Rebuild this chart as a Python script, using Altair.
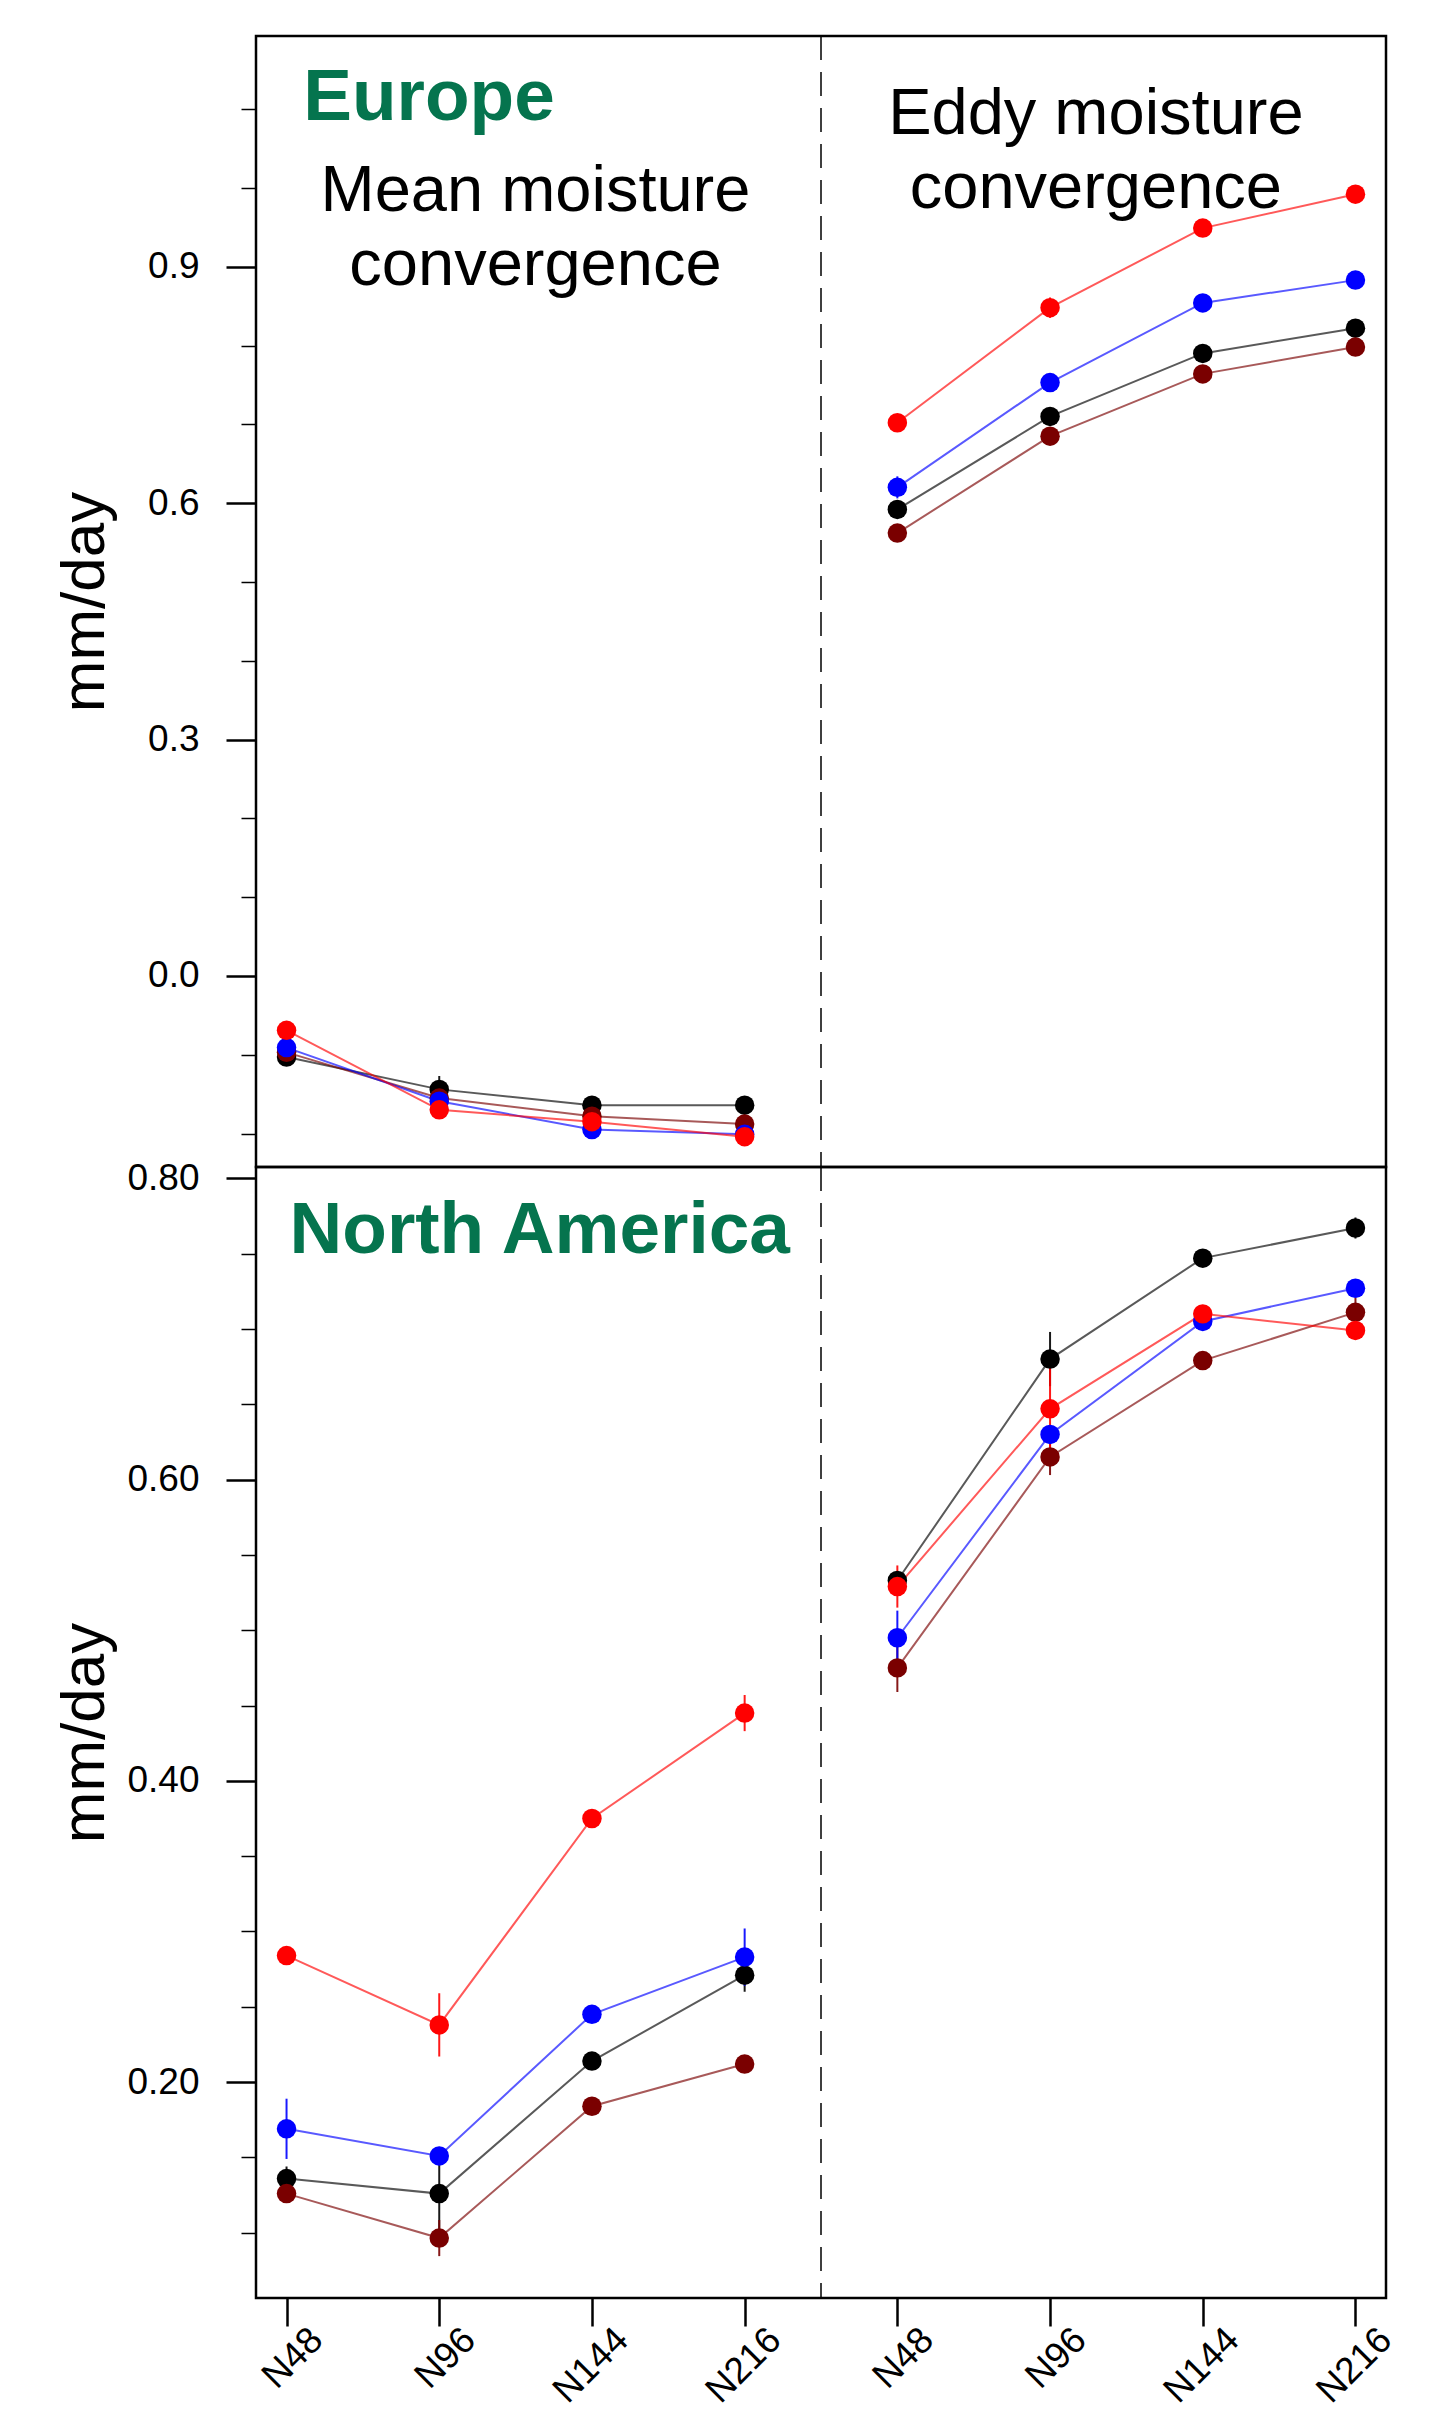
import altair as alt
import pandas as pd

resolutions = ["N48", "N96", "N144", "N216"]
components = ["Mean", "Eddy"]
series_names = ["black", "darkred", "blue", "red"]
series_colors = ["#000000", "#7A0000", "#0000FF", "#FF0000"]

# Europe - mean moisture convergence
eu_mean_black = [-0.103, -0.144, -0.164, -0.164]
eu_mean_darkred = [-0.097, -0.155, -0.178, -0.188]
eu_mean_blue = [-0.091, -0.159, -0.195, -0.201]
eu_mean_red = [-0.069, -0.170, -0.185, -0.204]
# Europe - eddy moisture convergence
eu_eddy_black = [0.592, 0.710, 0.790, 0.822]
eu_eddy_darkred = [0.562, 0.685, 0.764, 0.798]
eu_eddy_blue = [0.620, 0.753, 0.854, 0.883]
eu_eddy_red = [0.702, 0.848, 0.949, 0.992]
# Europe error half-widths
eu_mean_black_err = [0.004, 0.017, 0.004, 0.004]
eu_mean_darkred_err = [0.004, 0.004, 0.004, 0.004]
eu_mean_blue_err = [0.004, 0.004, 0.004, 0.004]
eu_mean_red_err = [0.004, 0.004, 0.004, 0.004]
eu_eddy_black_err = [0.004, 0.004, 0.004, 0.004]
eu_eddy_darkred_err = [0.004, 0.004, 0.004, 0.004]
eu_eddy_blue_err = [0.014, 0.004, 0.004, 0.004]
eu_eddy_red_err = [0.004, 0.013, 0.005, 0.004]

# North America - mean moisture convergence
na_mean_black = [0.136, 0.126, 0.214, 0.271]
na_mean_darkred = [0.126, 0.0965, 0.184, 0.212]
na_mean_blue = [0.169, 0.151, 0.245, 0.283]
na_mean_red = [0.284, 0.238, 0.375, 0.445]
# North America - eddy moisture convergence
na_eddy_black = [0.533, 0.680, 0.747, 0.767]
na_eddy_darkred = [0.475, 0.615, 0.679, 0.711]
na_eddy_blue = [0.495, 0.630, 0.705, 0.727]
na_eddy_red = [0.529, 0.647, 0.710, 0.699]
# North America error half-widths
na_mean_black_err = [0.008, 0.024, 0.004, 0.011]
na_mean_darkred_err = [0.005, 0.012, 0.004, 0.005]
na_mean_blue_err = [0.020, 0.006, 0.004, 0.019]
na_mean_red_err = [0.004, 0.021, 0.004, 0.012]
na_eddy_black_err = [0.004, 0.018, 0.004, 0.007]
na_eddy_darkred_err = [0.016, 0.012, 0.004, 0.010]
na_eddy_blue_err = [0.018, 0.006, 0.004, 0.005]
na_eddy_red_err = [0.014, 0.033, 0.004, 0.006]

FONT = "Liberation Sans"
GREEN = "#05744E"


def build(region_vals, region_errs):
    rows = []
    for ci, comp in enumerate(components):
        for s in series_names:
            vals = region_vals[(comp, s)]
            errs = region_errs[(comp, s)]
            for i, r in enumerate(resolutions):
                rows.append({
                    "comp": comp,
                    "series": s,
                    "res": r,
                    "x": i + 1 + 4 * ci,
                    "y": vals[i],
                    "lo": vals[i] - errs[i],
                    "hi": vals[i] + errs[i],
                })
    return pd.DataFrame(rows)


eu_df = build(
    {("Mean", "black"): eu_mean_black, ("Mean", "darkred"): eu_mean_darkred,
     ("Mean", "blue"): eu_mean_blue, ("Mean", "red"): eu_mean_red,
     ("Eddy", "black"): eu_eddy_black, ("Eddy", "darkred"): eu_eddy_darkred,
     ("Eddy", "blue"): eu_eddy_blue, ("Eddy", "red"): eu_eddy_red},
    {("Mean", "black"): eu_mean_black_err, ("Mean", "darkred"): eu_mean_darkred_err,
     ("Mean", "blue"): eu_mean_blue_err, ("Mean", "red"): eu_mean_red_err,
     ("Eddy", "black"): eu_eddy_black_err, ("Eddy", "darkred"): eu_eddy_darkred_err,
     ("Eddy", "blue"): eu_eddy_blue_err, ("Eddy", "red"): eu_eddy_red_err},
)
na_df = build(
    {("Mean", "black"): na_mean_black, ("Mean", "darkred"): na_mean_darkred,
     ("Mean", "blue"): na_mean_blue, ("Mean", "red"): na_mean_red,
     ("Eddy", "black"): na_eddy_black, ("Eddy", "darkred"): na_eddy_darkred,
     ("Eddy", "blue"): na_eddy_blue, ("Eddy", "red"): na_eddy_red},
    {("Mean", "black"): na_mean_black_err, ("Mean", "darkred"): na_mean_darkred_err,
     ("Mean", "blue"): na_mean_blue_err, ("Mean", "red"): na_mean_red_err,
     ("Eddy", "black"): na_eddy_black_err, ("Eddy", "darkred"): na_eddy_darkred_err,
     ("Eddy", "blue"): na_eddy_blue_err, ("Eddy", "red"): na_eddy_red_err},
)

# annotation texts (positions in data units)
eu_region_text = pd.DataFrame({"x": [1.11], "y": [1.086], "t": ["Europe"]})
eu_label_text = pd.DataFrame({
    "x": [2.63, 2.63, 6.30, 6.30],
    "y": [0.971, 0.877, 1.068, 0.974],
    "t": ["Mean moisture", "convergence", "Eddy moisture", "convergence"],
})
na_region_text = pd.DataFrame({"x": [1.02], "y": [0.7505], "t": ["North America"]})
divider = pd.DataFrame({"x": [4.5]})

PW, PH = 1130, 1131
x_scale = alt.Scale(domain=[0.8, 8.2], nice=False, zero=False)
color_scale = alt.Scale(domain=series_names, range=series_colors)

label_js = "[" + ",".join("'" + r + "'" for r in resolutions) + "]"
x_axis = alt.Axis(
    values=list(range(1, 9)),
    labelExpr=label_js + "[(round(datum.value) - 1) % 4]",
    title=None, grid=False, domain=False,
    tickSize=28, tickWidth=2.5, tickColor="black",
    labelAngle=315, labelAlign="right", labelBaseline="middle",
    labelOffset=30, labelPadding=8,
    labelFont=FONT, labelFontSize=37, labelColor="black",
    labelOverlap=False, labelFlush=False, labelBound=False,
)


def y_axis(values, major_test, fmt):
    return alt.Axis(
        values=values,
        labelExpr="(" + major_test + ") ? format(datum.value, '" + fmt + "') : ''",
        title="mm/day", titleFont=FONT, titleFontSize=62, titleFontWeight="normal",
        titleColor="black", titlePadding=5,
        minExtent=135, maxExtent=135,
        grid=False, domain=False,
        tickSize={"condition": {"test": major_test, "value": 30}, "value": 15},
        tickWidth={"condition": {"test": major_test, "value": 2.5}, "value": 1.5},
        tickColor="black",
        labelFont=FONT, labelFontSize=37, labelColor="black", labelPadding=27,
        labelOverlap=False, labelFlush=False, labelBound=False,
    )


def panel(df, domain, axis, texts_bold, texts_norm, show_x):
    y_scale = alt.Scale(domain=domain, nice=False, zero=False)
    xax = x_axis if show_x else None
    xenc = alt.X("x:Q", scale=x_scale, axis=xax)
    base = alt.Chart(df)
    yenc = alt.Y("y:Q", scale=y_scale, axis=axis)
    col = alt.Color("series:N", scale=color_scale, legend=None)

    dash = alt.Chart(divider).mark_rule(
        color="black", strokeWidth=1.5, strokeDash=[24, 12]
    ).encode(x=alt.X("x:Q", scale=x_scale, axis=xax))

    lines = base.mark_line(strokeWidth=2, strokeOpacity=0.65).encode(
        x=xenc, y=yenc, color=col, detail="comp:N",
        order=alt.Order("x:Q"),
    )
    errs = base.mark_rule(strokeWidth=2, opacity=0.9).encode(
        x=xenc, y=alt.Y("lo:Q", scale=y_scale, axis=axis), y2="hi:Q", color=col
    )
    pts = base.mark_circle(size=380, opacity=1).encode(x=xenc, y=yenc, color=col)

    layers = [dash, lines, errs, pts]
    tx = alt.X("x:Q", scale=x_scale, axis=xax)
    ty = alt.Y("y:Q", scale=y_scale, axis=axis)
    if texts_bold is not None:
        layers.append(
            alt.Chart(texts_bold).mark_text(
                font=FONT, fontSize=73, fontWeight="bold", color=GREEN,
                align="left", baseline="alphabetic",
            ).encode(x=tx, y=ty, text="t:N")
        )
    if texts_norm is not None:
        layers.append(
            alt.Chart(texts_norm).mark_text(
                font=FONT, fontSize=65, color="black",
                align="center", baseline="alphabetic",
            ).encode(x=tx, y=ty, text="t:N")
        )
    return alt.layer(*layers).properties(width=PW, height=PH)


top_axis = y_axis(
    [round(-0.2 + 0.1 * k, 1) for k in range(14)],
    "abs(datum.value * 10 / 3 - round(datum.value * 10 / 3)) < 0.001",
    ".1f",
)
bot_axis = y_axis(
    [round(0.10 + 0.05 * k, 2) for k in range(15)],
    "abs(datum.value * 5 - round(datum.value * 5)) < 0.001",
    ".2f",
)

top = panel(eu_df, [-0.2425, 1.1928], top_axis, eu_region_text, eu_label_text, False)
bottom = panel(na_df, [0.0567, 0.8075], bot_axis, na_region_text, None, True)

chart = (
    alt.vconcat(top, bottom, spacing=0, bounds="flush")
    .resolve_scale(y="independent")
    .configure_view(stroke="black", strokeWidth=2.5)
    .properties(padding={"left": 43, "top": 26, "right": 10, "bottom": 5}, background="white")
)

chart.save("out.html", embed_options={"renderer": "svg", "actions": False})
